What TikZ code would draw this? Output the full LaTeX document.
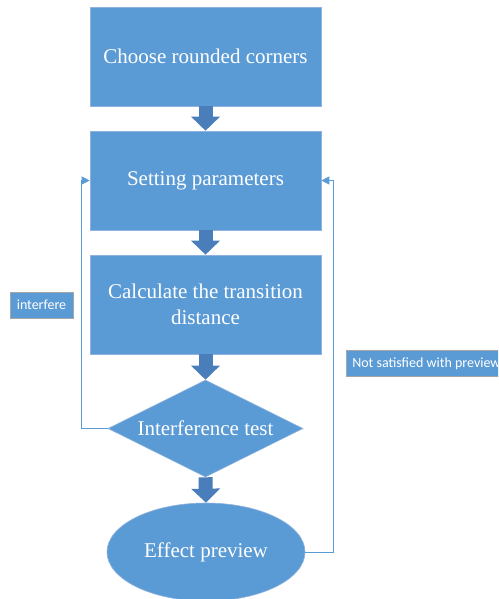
\documentclass[tikz,border=0pt]{standalone}
\usepackage{fontspec}
\setmainfont{Liberation Serif}
\newfontfamily\labelfont{Carlito}
\usetikzlibrary{shapes.geometric,arrows.meta}
\definecolor{fillblue}{HTML}{5B9BD5}
\definecolor{edgeblue}{HTML}{8DB3DE}
\definecolor{arrowblue}{HTML}{4A7EBB}
\definecolor{labeledge}{HTML}{A5A5A5}
\tikzset{
  x=1pt, y=-1pt,
  stepbox/.style={rectangle, fill=fillblue, draw=edgeblue, line width=0.6pt,
    minimum width=231pt, minimum height=99pt, inner sep=0pt, text=white,
    font=\fontsize{21}{26}\selectfont, align=center},
  decision/.style={diamond, fill=fillblue, draw=edgeblue, line width=0.6pt,
    minimum width=195pt, minimum height=97pt, aspect=2, inner sep=0pt, text=white,
    font=\fontsize{21}{26}\selectfont},
  terminal/.style={ellipse, fill=fillblue, draw=edgeblue, line width=0.6pt,
    minimum width=198pt, minimum height=98pt, inner sep=0pt, text=white,
    font=\fontsize{21}{26}\selectfont},
  fatarrow/.style={draw=arrowblue, line width=14pt,
    -{Triangle[width=28pt,length=14pt]}},
  loopline/.style={draw=fillblue, line width=0.9pt,
    -{Triangle[width=8pt,length=8pt]}},
  tag/.style={rectangle, fill=fillblue, draw=labeledge, line width=0.5pt,
    text=white, font=\labelfont\fontsize{14}{16}\selectfont,
    minimum height=26pt, inner xsep=6pt, inner ysep=0pt},
}
\begin{document}
\begin{tikzpicture}
\useasboundingbox (0,0) rectangle (498,599);
\clip (0,0) rectangle (498,599);
\node[stepbox] (b1) at (205.5,56.5) {Choose rounded corners};
\node[stepbox] (b2) at (205.5,180.5) {Setting parameters};
\node[stepbox] (b3) at (205.5,304.5) {Calculate the transition\\distance};
\node[decision] (d) at (205.5,428.5) {Interference test};
\node[terminal] (e) at (206,552) {Effect preview};
\draw[fatarrow] (b1.south) -- (b2.north);
\draw[fatarrow] (b2.south) -- (b3.north);
\draw[fatarrow] (b3.south) -- (d.north);
\draw[fatarrow] (d.south) -- (e.north);
\draw[loopline] (d.west) -- ++(-26,0) |- (b2.west);
\draw[loopline] (e.east) -- ++(28,0) |- (b2.east);
\node[tag, minimum width=63pt] (t1) at (41.5,305) {interfere};
\node[tag, anchor=west] (t2) at (346,363.5) {Not satisfied with preview};
\end{tikzpicture}
\end{document}
